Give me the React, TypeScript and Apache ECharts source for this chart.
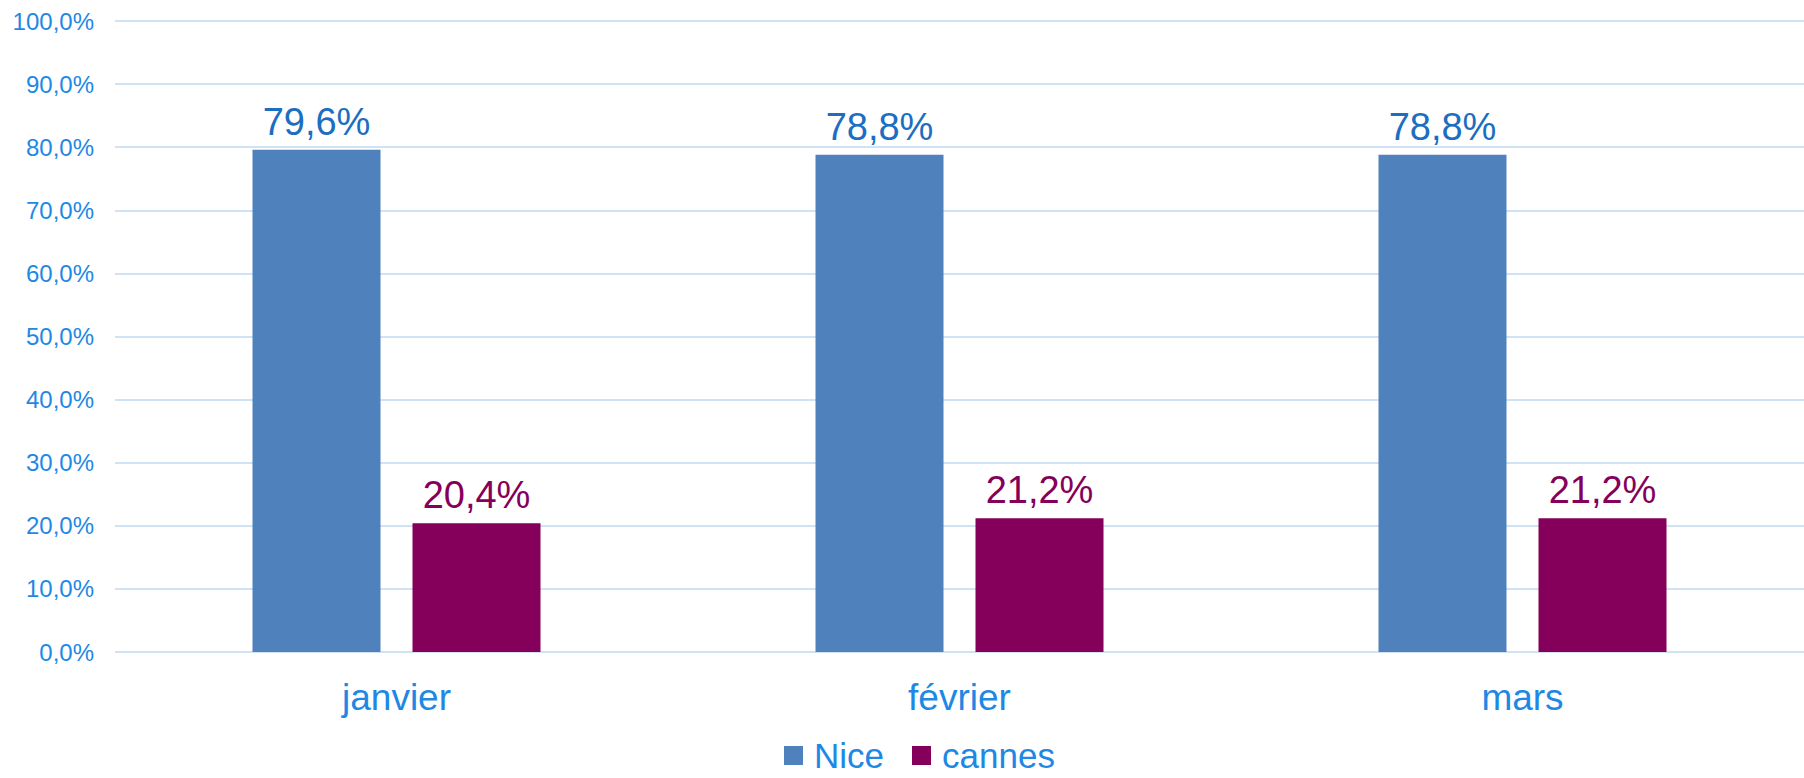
import React, { useEffect, useRef } from "react";
import * as echarts from "echarts";

const categories = ["janvier", "février", "mars"];
const niceValues = [79.6, 78.8, 78.8];
const cannesValues = [20.4, 21.2, 21.2];
const seriesNames = ["Nice", "cannes"];

const FONT = "'Liberation Sans', Arial, sans-serif";
const fmt = (v: number) => v.toFixed(1).replace(".", ",") + "%";

export default function App() {
  const ref = useRef<HTMLDivElement>(null);
  useEffect(() => {
    if (!ref.current) return;
    const chart = echarts.init(ref.current, null, { renderer: "svg" });
    chart.setOption({
      animation: false,
      backgroundColor: "#ffffff",
      textStyle: { fontFamily: FONT },
      grid: { left: 115, right: 0, top: 21, bottom: 126, containLabel: false },
      legend: {
        data: seriesNames,
        left: 784,
        top: 738,
        padding: 0,
        itemWidth: 19,
        itemHeight: 19,
        itemGap: 28,
        icon: "rect",
        textStyle: {
          fontSize: 35,
          lineHeight: 35,
          color: "#1E88E5",
          fontFamily: FONT,
          padding: [0, 0, 0, 6],
        },
      },
      xAxis: {
        type: "category",
        data: categories,
        axisLine: { show: false },
        axisTick: { show: false },
        axisLabel: { fontSize: 37, color: "#1E88E5", margin: 27, fontFamily: FONT },
      },
      yAxis: {
        type: "value",
        min: 0,
        max: 100,
        interval: 10,
        axisLine: { show: false },
        axisTick: { show: false },
        splitLine: { lineStyle: { color: "#D0E3F5", width: 2 } },
        axisLabel: {
          fontSize: 24,
          color: "#1E88E5",
          margin: 21,
          fontFamily: FONT,
          formatter: (v: number) => fmt(v),
        },
      },
      series: [
        {
          name: seriesNames[0],
          type: "bar",
          data: niceValues,
          barWidth: 128,
          barGap: "25%",
          itemStyle: { color: "#4F81BD" },
          label: {
            show: true,
            position: "top",
            distance: 9,
            fontSize: 38,
            color: "#1B6EC2",
            fontFamily: FONT,
            formatter: (p: any) => fmt(p.value),
          },
        },
        {
          name: seriesNames[1],
          type: "bar",
          data: cannesValues,
          barWidth: 128,
          barGap: "25%",
          itemStyle: { color: "#85005B" },
          label: {
            show: true,
            position: "top",
            distance: 9,
            fontSize: 38,
            color: "#85005B",
            fontFamily: FONT,
            formatter: (p: any) => fmt(p.value),
          },
        },
      ],
    });
    return () => chart.dispose();
  }, []);
  return (
    <div
      ref={ref}
      style={{ position: "absolute", left: 0, top: 0, width: 1804, height: 778 }}
    />
  );
}
